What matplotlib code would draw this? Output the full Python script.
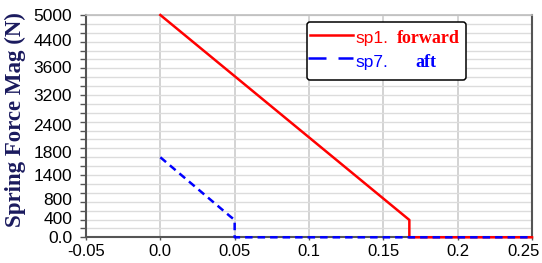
import matplotlib
matplotlib.use("Agg")
import matplotlib.pyplot as plt
import numpy as np
from matplotlib.transforms import Affine2D
from matplotlib.patches import FancyBboxPatch
from matplotlib.lines import Line2D

# ---- data ----
sp1_x = [0.0, 0.1675, 0.1675, 0.25]
sp1_y = [5000, 390, 0, 0]
sp7_x = [0.0, 0.047, 0.05, 0.05, 0.25]
sp7_y = [1800, 470, 390, 0, 0]

series_names = ["sp1.", "sp7."]
series_tags = ["forward", "aft"]
series_colors = ["#ff0000", "#0000ff"]

x_ticks = [-0.05, 0.0, 0.05, 0.1, 0.15, 0.2, 0.25]
x_ticklabels = ["-0.05", "0.0", "0.05", "0.1", "0.15", "0.2", "0.25"]
y_grid_step = 200
y_label_pos = [0, 428, 856, 1403, 1928, 2529, 3205, 3820, 4443, 5000]
y_ticklabels = ["0.0", "400", "800", "1400", "1800", "2400", "3200", "3600", "4400", "5000"]
y_label = "Spring Force Mag (N)"

W, H = 542, 263
fig = plt.figure(figsize=(W / 100, H / 100), dpi=100)
fig.patch.set_facecolor("white")
px = Affine2D().scale(1 / 100, -1 / 100).translate(0, H / 100) + fig.dpi_scale_trans

left, right, top, bottom = 86, 532, 15, 237.3
ax = fig.add_axes([left / W, (H - bottom) / H, (right - left) / W, (bottom - top) / H])
ax.set_xlim(-0.05, 0.25)
ax.set_ylim(0, 5000)

sans = "Liberation Sans"
serif = "Liberation Serif"

# x axis (last label drawn separately, nudged left so it stays inside the picture)
ax.set_xticks(x_ticks)
ax.set_xticklabels(x_ticklabels[:-1] + [""], fontfamily=sans, fontsize=12)
ax.tick_params(axis="x", length=2.5, width=1, color="#555555", pad=2.5)
ax.annotate(x_ticklabels[-1], xy=(x_ticks[-1], 0), xycoords=("data", "axes fraction"),
            xytext=(-8, -6.9), textcoords="offset pixels", ha="center", va="top",
            fontfamily=sans, fontsize=12, annotation_clip=False)

# y axis: gridline ticks every 200, labels at their drawn positions
ax.yaxis.remove_overlapping_locs = False
ax.set_yticks(np.arange(0, 5001, y_grid_step))
ax.set_yticklabels([])
ax.tick_params(axis="y", which="major", length=4.5, width=1, color="#555555")
ax.set_yticks(y_label_pos, minor=True)
ax.set_yticklabels(y_ticklabels, minor=True, fontfamily=sans, fontsize=12.5)
ax.tick_params(axis="y", which="minor", length=0, pad=10)

ax.grid(axis="x", which="major", color="#c8c8c8", lw=1.1)
ax.grid(axis="y", which="major", color="#dcdcdc", lw=1.0)
ax.set_axisbelow(True)

for s in ["left", "bottom", "right"]:
    ax.spines[s].set_color("#555555")
    ax.spines[s].set_linewidth(1.5)
ax.spines["top"].set_color("#bdbdbd")
ax.spines["top"].set_linewidth(1.2)

ax.plot(sp1_x, sp1_y, color=series_colors[0], lw=1.8, clip_on=False, zorder=3)
ax.plot(sp7_x, sp7_y, color=series_colors[1], lw=1.8, dashes=(3.0, 2.0),
        clip_on=False, zorder=4)

# y label
fig.text(15 / W, 1 - 120 / H, y_label, rotation=90, ha="center", va="center",
         fontfamily=serif, fontweight="bold", fontsize=16.5, color="#1a1a5e")

# manual legend
box = FancyBboxPatch((307, 22), 466 - 307, 80 - 22,
                     boxstyle="round,pad=0,rounding_size=3",
                     transform=px, facecolor="white", edgecolor="black",
                     lw=1.1, zorder=10)
fig.add_artist(box)
fig.add_artist(Line2D([310, 353], [35, 35], transform=px, color=series_colors[0],
                      lw=1.8, zorder=11))
fig.add_artist(Line2D([308, 353], [58, 58], transform=px, color=series_colors[1],
                      lw=1.8, dashes=(7.2, 4.8), zorder=11))
for name, tag, col, yb, xt in zip(series_names, series_tags, series_colors,
                                  [42.5, 66.5], [397, 415]):
    fig.text(355, yb, name, transform=px, ha="left", va="baseline",
             fontfamily=sans, fontsize=12.5, color=col, zorder=12)
    fig.text(xt, yb + 0.5, tag, transform=px, ha="left", va="baseline",
             fontfamily=serif, fontweight="bold", fontsize=13, color=col, zorder=12)

fig.savefig("out.png", dpi=100)
